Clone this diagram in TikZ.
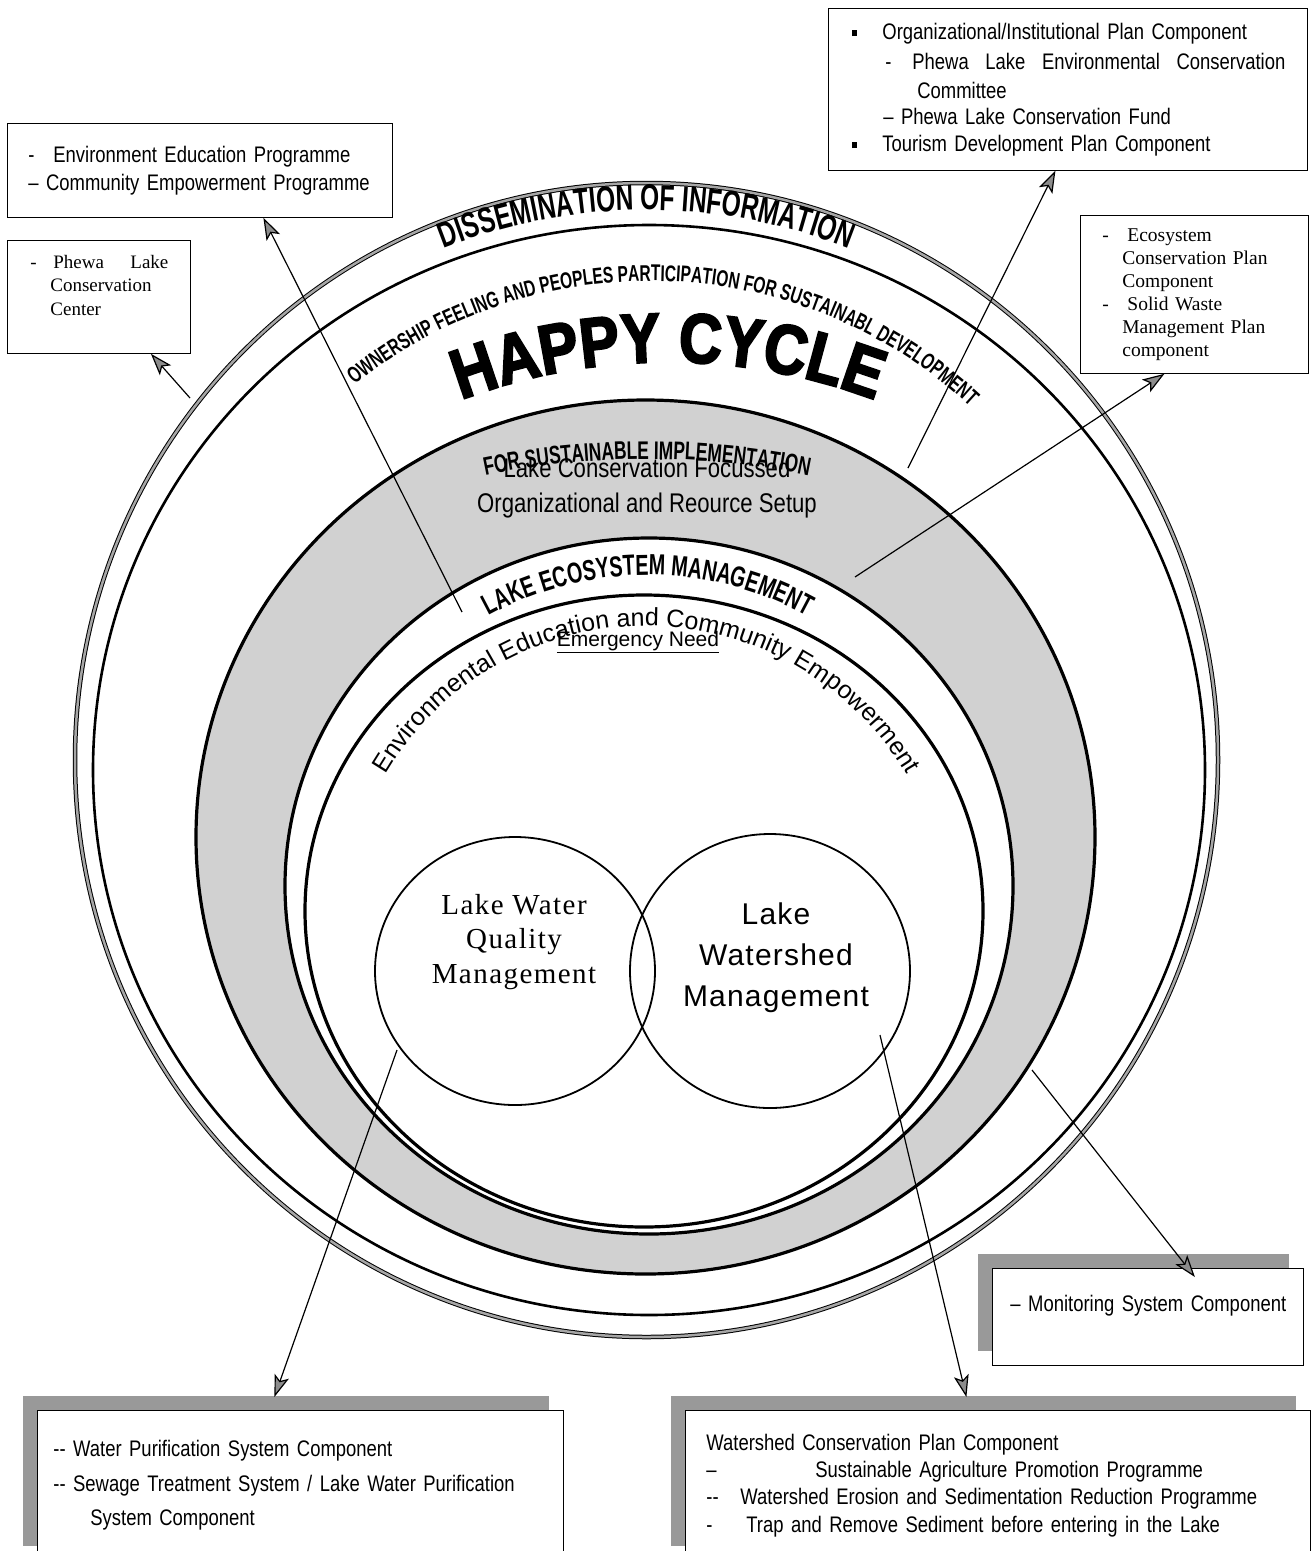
\documentclass[tikz,border=0pt]{standalone}
\usepackage{fontspec}
\newfontfamily\narrowsans[FakeStretch=0.82]{Liberation Sans}
\newfontfamily\condsans[FakeStretch=0.68]{Liberation Sans}
\newfontfamily\heavysans[FakeStretch=0.85,FakeBold=3]{Liberation Sans}
\newfontfamily\plainsans{Liberation Sans}
\newfontfamily\plainserif{Liberation Serif}
\usetikzlibrary{arrows.meta}
\usetikzlibrary{shapes.geometric}
\usetikzlibrary{decorations.text}
\usetikzlibrary{shadows}
\newcommand{\shadowgap}{14pt}
\newcommand{\bulletsq}{\rule[3pt]{5pt}{6pt}}
\tikzstyle{ring} = [ellipse, draw=black, line width=3.2pt, inner sep=0pt]
\tikzstyle{infobox} = [rectangle, draw=black, fill=white, line width=0.8pt, anchor=north west, align=left, inner ysep=0pt, font=\narrowsans\fontsize{22.5}{28}\selectfont]
\tikzstyle{shadowbox} = [infobox, drop shadow={shadow xshift=-\shadowgap, shadow yshift=\shadowgap, fill=black!40, opacity=1}]
\tikzstyle{arrow} = [-{Stealth[length=22pt,width=15pt,inset=5pt,fill=black!45]}, line width=1.2pt]

\begin{document}
\begin{tikzpicture}[x=1pt, y=1pt]
  \useasboundingbox (0,0) rectangle (1314,-1551);

  % rings, outside in
  \node (rim) [ring, line width=1pt, double=black!35, double distance=2.5pt, minimum width=1143, minimum height=1154] at (646.5,-760) {};
  \node (ownring) [ring, line width=2.6pt, minimum width=1112, minimum height=1090] at (649,-770) {};
  \node (bandout) [ring, fill=black!18, minimum width=899, minimum height=874] at (645.5,-837) {};
  \node (bandin) [ring, fill=white, minimum width=728, minimum height=696] at (649,-886) {};
  \node (ecoring) [ring, minimum width=678, minimum height=632] at (644,-911) {};

  % the two management circles
  \node (wqring) [ring, line width=1.8pt, minimum width=280, minimum height=268] at (515,-971) {};
  \node (wsring) [ring, line width=1.8pt, minimum width=280, minimum height=274] at (770,-971) {};
  \node (wqtext) [font=\plainserif\addfontfeature{LetterSpace=5}\fontsize{29}{34.5}\selectfont, align=center] at (514,-942) {Lake Water\\Quality\\Management};
  \node (wstext) [font=\plainsans\addfontfeature{LetterSpace=4}\fontsize{30}{41}\selectfont, align=center] at (776,-958) {Lake\\Watershed\\Management};

  % texts along the rings
  \path [decorate, decoration={text along path, text align=center,
        text={|\condsans\bfseries\fontsize{36}{36}\selectfont|DISSEMINATION OF INFORMATION}}]
        (646.5,-760) ++(135:550) arc (135:45:550);
  \path [decorate, decoration={text along path, text align=center,
        text={|\condsans\bfseries\fontsize{22.8}{22.8}\selectfont|OWNERSHIP FEELING AND PEOPLES PARTICIPATION FOR SUSTAINABL DEVELOPMENT}}]
        (650,-752) ++(148:471) arc (148:28:471);
  \path [decorate, decoration={text along path, text align=center,
        text={|\heavysans\bfseries\fontsize{70}{70}\selectfont|HAPPY CYCLE}}]
        (668,-945) ++(120:583) arc (120:60:583);
  \path [decorate, decoration={text along path, text align=center,
        text={|\condsans\bfseries\fontsize{25.5}{25.5}\selectfont|FOR SUSTAINABLE IMPLEMENTATION}}]
        (647,-1259) ++(110:800) arc (110:70:800);
  \path [decorate, decoration={text along path, text align=center,
        text={|\condsans\bfseries\fontsize{29}{29}\selectfont|LAKE ECOSYSTEM MANAGEMENT}}]
        (648,-906) ++(150:331) arc (150:30:331);
  \path [decorate, decoration={text along path, text align=center,
        text={|\plainsans\fontsize{25}{25}\selectfont|Environmental Education and Community Empowerment}}]
        (646,-928.5) ++(165:302.5) arc (165:15:302.5);

  \node (setup) [font=\narrowsans\fontsize{27}{35}\selectfont, align=center] at (647,-488) {Lake Conservation Focussed\\Organizational and Reource Setup};
  \node (need) [font=\plainsans\fontsize{21}{21}\selectfont] at (638,-642) {\underline{Emergency Need}};

  % boxes
  \node (eebox) [infobox, inner xsep=21pt, text width=343pt, minimum height=94pt] at (7,-123)
        {\makebox[25pt][l]{-}Environment Education Programme\\– Community Empowerment Programme\\[-6pt]};
  \node (pbox) [infobox, font=\plainserif\fontsize{19}{23.5}\selectfont, inner xsep=23pt, text width=137pt, minimum height=113pt] at (7,-240)
        {\makebox[23pt][l]{-}\makebox[115pt][s]{Phewa\hfill Lake}\\\hspace*{20pt}Conservation\\\hspace*{20pt}Center\\ \mbox{}};
  \node (orgbox) [infobox, font=\narrowsans\fontsize{22.5}{26.5}\selectfont, inner xsep=24pt, text width=431pt, minimum height=162pt] at (828,-8)
        {\makebox[30pt][l]{\bulletsq}Organizational/Institutional Plan Component\\[4pt]
         \hspace*{33pt}\makebox[27pt][l]{-}\makebox[373pt][s]{Phewa\hfill Lake\hfill Environmental\hfill Conservation}\\[2pt]
         \hspace*{65pt}Committee\\
         \hspace*{31pt}– Phewa Lake Conservation Fund\\
         \makebox[30pt][l]{\bulletsq}Tourism Development Plan Component};
  \node (ecobox) [infobox, font=\plainserif\fontsize{19.5}{23}\selectfont, inner xsep=22pt, text width=184pt, minimum height=158pt] at (1080,-215)
        {\makebox[25pt][l]{-}Ecosystem\\\hspace*{20pt}Conservation Plan\\\hspace*{20pt}Component\\
         \makebox[25pt][l]{-}Solid Waste\\\hspace*{20pt}Management Plan\\\hspace*{20pt}component};
  \node (monbox) [shadowbox, inner xsep=10.5pt, text width=290pt, minimum height=97pt] at (992,-1268)
        {\hspace*{7.5pt}– Monitoring System Component\\ \mbox{}};
  \node (wpbox) [shadowbox, font=\narrowsans\fontsize{22.5}{34.5}\selectfont, inner xsep=16pt, text width=494pt, minimum height=150pt] at (37,-1410)
        {-{}- Water Purification System Component\\-{}- Sewage Treatment System / Lake Water Purification\\\hspace*{37pt}System Component};
  \node (wsbox) [shadowbox, font=\narrowsans\fontsize{22.5}{27.3}\selectfont, inner xsep=21pt, text width=583pt, minimum height=150pt] at (685,-1410)
        {Watershed Conservation Plan Component\\
         \makebox[109pt][l]{–}Sustainable Agriculture Promotion Programme\\
         \makebox[34pt][l]{-{}-}Watershed Erosion and Sedimentation Reduction Programme\\
         \makebox[40pt][l]{-}Trap and Remove Sediment before entering in the Lake\\[6pt]};

  % connectors
  \coordinate (p1) at (190,-398);
  \coordinate (p2) at (462,-612);
  \coordinate (p3) at (908,-468);
  \coordinate (p4) at (855,-577);
  \coordinate (p5) at (1032,-1070);
  \coordinate (p6) at (397,-1050);
  \coordinate (p7) at (880,-1035);

  \draw [arrow] (p1) -- ([xshift=52pt]pbox.south);
  \draw [arrow] (p2) -- ([xshift=63.5pt]eebox.south);
  \draw [arrow] (p3) -- ([xshift=-12.5pt]orgbox.south);
  \draw [arrow] (p4) -- ([xshift=-30pt]ecobox.south);
  \draw [arrow] (p5) -- ([xshift=47pt,yshift=-9pt]monbox.north);
  \draw [arrow] (p6) -- ([xshift=-26pt,yshift=13pt]wpbox.north);
  \draw [arrow] (p7) -- ([xshift=-31.5pt,yshift=13pt]wsbox.north);

\end{tikzpicture}
\end{document}
